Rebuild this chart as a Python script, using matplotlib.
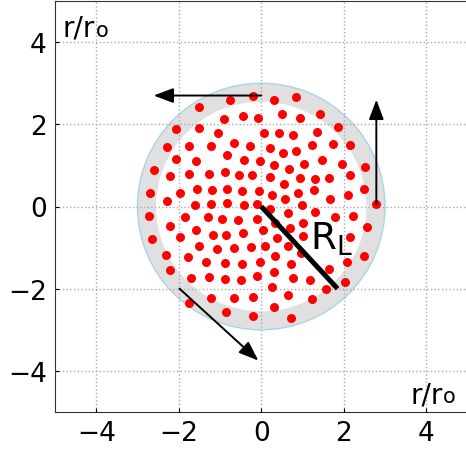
import numpy as np
import matplotlib
matplotlib.use('Agg')
import matplotlib.pyplot as plt
from matplotlib.patches import Circle

# ----------------------------------------------
# particle positions (r/ro)
dot_x = [-0.19, -0.75, -1.50, -0.44, -0.91, -0.07, -2.06, -1.52, -1.06, 0.06,
         -2.28, -1.76, -1.23, -0.66, -0.28, -2.06, -1.57, -0.82, -0.41, -0.04,
         -2.61, -2.22, -1.76, -1.26, -0.87, -0.53, -0.23, -2.69, -1.96, -1.56,
         -1.19, -0.83, -0.47, -0.05, -2.28, -1.60, -1.21, -0.83, -0.43, -0.10,
         0.30, 0.84, 0.50, 0.93, 1.43, 0.42, 0.78, 1.36, 1.85, 0.20,
         0.53, 0.84, 1.24, 1.74, 2.15, 0.30, 0.68, 1.04, 1.47, 1.95,
         2.52, 0.22, 0.54, 0.93, 1.31, 1.65, 2.15, 0.26, 0.58, 0.89,
         1.27, 1.67, 2.10, 2.49, 0.99, 2.78, -2.71, -1.86, -1.29, -0.95,
         -0.56, -0.10, -2.22, -1.57, -1.17, -0.85, -0.44, -2.66, -1.96, -1.50,
         -1.07, -0.65, -0.25, -2.30, -1.78, -1.34, -0.89, -0.47, -0.02, -2.22,
         -1.70, -1.26, -0.89, -0.48, -0.10, -1.76, -1.21, -0.65, -0.21, -0.85,
         -0.21, 0.22, 1.79, 2.22, 0.04, 0.34, 0.70, 1.01, 1.02, 2.57,
         2.15, 0.10, 0.38, 0.66, 0.96, 0.34, 0.72, 2.09, 2.49, 0.30,
         0.77, 1.19, 1.65, 2.03, 0.27, 0.66, 1.24, 1.57, 0.30, 0.72,
         0.64, 1.31]
dot_y = [2.69, 2.60, 2.42, 2.21, 2.12, 2.15, 1.88, 1.91, 1.80, 1.79,
         1.45, 1.48, 1.48, 1.55, 1.46, 1.15, 1.10, 1.26, 1.14, 1.11,
         0.88, 0.74, 0.80, 0.78, 0.84, 0.76, 0.76, 0.34, 0.34, 0.42,
         0.39, 0.43, 0.37, 0.38, 0.13, 0.03, 0.07, 0.09, 0.03, 0.05,
         2.60, 2.66, 2.26, 2.15, 2.26, 1.79, 1.75, 1.81, 1.93, 1.43,
         1.31, 1.36, 1.49, 1.53, 1.50, 1.02, 0.92, 1.04, 1.14, 1.04,
         0.96, 0.72, 0.55, 0.69, 0.68, 0.69, 0.76, 0.27, 0.19, 0.34,
         0.39, 0.19, 0.29, 0.43, 0.03, 0.05, -0.23, -0.26, -0.26, -0.30,
         -0.34, -0.31, -0.47, -0.56, -0.69, -0.70, -0.64, -0.78, -0.74, -0.95,
         -1.04, -1.01, -0.99, -1.17, -1.23, -1.35, -1.37, -1.39, -1.34, -1.55,
         -1.73, -1.72, -1.76, -1.80, -1.68, -2.35, -2.22, -2.22, -2.20, -2.57,
         -2.67, -0.05, -0.26, -0.22, -0.58, -0.40, -0.52, -0.40, -0.72, -0.50,
         -0.74, -0.96, -0.77, -0.95, -1.13, -1.20, -1.41, -1.34, -1.20, -1.59,
         -1.73, -1.80, -1.53, -1.84, -1.96, -2.16, -2.24, -2.00, -2.45, -2.71,
         -0.15, -0.13]

# annulus (edge layer)
r_outer = 3.0
r_inner = 2.55

# velocity arrows: tail -> tip
arrow_x0 = [0.0, 2.79, -1.98]
arrow_y0 = [2.70, 0.05, -2.00]
arrow_x1 = [-2.61, 2.79, -0.07]
arrow_y1 = [2.70, 2.60, -3.75]

# radius line R_L
rl_x = [0.0, 1.85]
rl_y = [0.0, -2.0]

ticks = [-4, -2, 0, 2, 4]

# ----------------------------------------------
fig = plt.figure(figsize=(4.66, 4.52), dpi=100)
ax = fig.add_axes([55 / 466, 39 / 452, 412.5 / 466, 411 / 452])

ax.add_patch(Circle((0, 0), r_outer, facecolor='#e0e0e0', edgecolor='#a8d4e6', lw=1, zorder=1))
ax.add_patch(Circle((0, 0), r_inner, facecolor='white', edgecolor='none', zorder=1))

ax.scatter(dot_x, dot_y, s=42, color='#ff0000', linewidths=0, zorder=3)

ax.plot(rl_x, rl_y, color='black', lw=3.6, solid_capstyle='butt', zorder=4)
ax.text(1.17, -1.02, r'R$_\mathrm{L}$', fontsize=27, va='baseline', ha='left', zorder=5)

for x0, y0, x1, y1 in zip(arrow_x0, arrow_y0, arrow_x1, arrow_y1):
    ax.annotate('', xy=(x1, y1), xytext=(x0, y0),
                arrowprops=dict(arrowstyle='-|>,head_length=0.8,head_width=0.3',
                                color='black', lw=1.4, mutation_scale=15,
                                shrinkA=0, shrinkB=0),
                zorder=5)

# axis labels inside the axes
ax.text(-4.83, 4.16, 'r/r', fontsize=20, va='baseline', ha='left')
ax.text(-4.02, 4.16, 'o', fontsize=15, va='baseline', ha='left')
ax.text(3.61, -4.76, 'r/r', fontsize=20, va='baseline', ha='left')
ax.text(4.41, -4.76, 'o', fontsize=15, va='baseline', ha='left')

ax.set_xlim(-5, 5)
ax.set_ylim(-5, 5)
ax.set_xticks(ticks)
ax.set_yticks(ticks)
ax.set_axisbelow(False)
ax.grid(True, linestyle=':', color='#aaaaaa', lw=1, zorder=2)
ax.tick_params(direction='in', length=3, labelsize=19, pad=6)
for sp in ax.spines.values():
    sp.set_color('#333333')

fig.savefig('out.png', dpi=100)
